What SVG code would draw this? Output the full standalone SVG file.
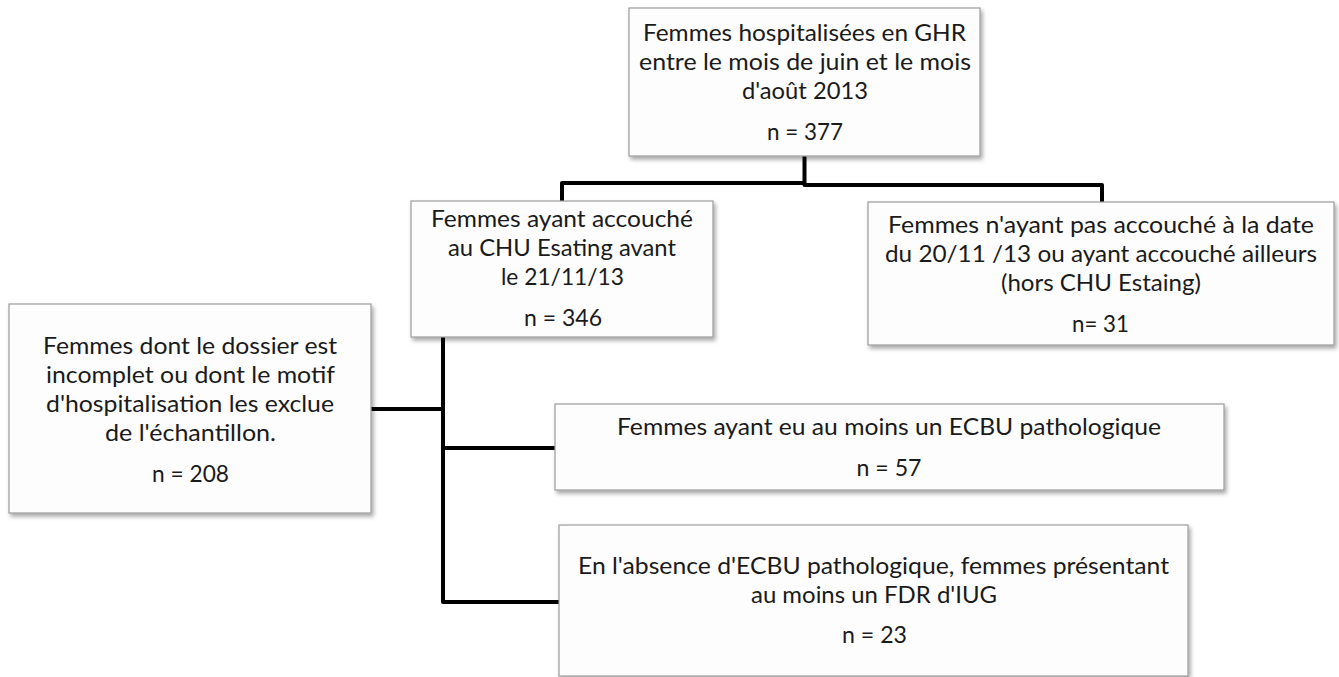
<svg xmlns="http://www.w3.org/2000/svg" width="1339" height="677" viewBox="0 0 1339 677">
<defs>
<filter id="sh" x="-5%" y="-5%" width="115%" height="125%">
<feDropShadow dx="2" dy="3" stdDeviation="2" flood-color="#000" flood-opacity="0.35"/>
</filter>
<style>
.box{fill:#fdfdfd;stroke:#9c9c9c;stroke-width:1.2;filter:url(#sh)}
.t{font-family:Lato,"Open Sans","Liberation Sans",sans-serif;font-size:23px;fill:#1a1a1a;text-anchor:middle}
.c{fill:none;stroke:#000;stroke-width:4;stroke-linejoin:round;stroke-linecap:butt}
</style>
</defs>
<rect width="1339" height="677" fill="#fff"/>
<g id="connectors">
<path class="c" d="M562,201 V183 H806"/>
<path class="c" d="M804.5,156 V185 H1102 V202"/>
<path class="c" d="M443,337 V602 H559"/>
<path class="c" d="M371,409 H443"/>
<path class="c" d="M443,448 H555"/>
</g>
<g id="n1">
<rect class="box" x="629" y="8" width="351" height="148"/>
<text class="t" x="804.5" y="41" textLength="323" lengthAdjust="spacingAndGlyphs">Femmes hospitalisées en GHR</text>
<text class="t" x="805" y="70" textLength="332" lengthAdjust="spacingAndGlyphs">entre le mois de juin et le mois</text>
<text class="t" x="805" y="99" textLength="126" lengthAdjust="spacingAndGlyphs">d'août 2013</text>
<text class="t" x="805" y="140" textLength="76" lengthAdjust="spacingAndGlyphs">n = 377</text>
</g>
<g id="n2">
<rect class="box" x="411" y="201" width="302" height="136"/>
<text class="t" x="562" y="227" textLength="262" lengthAdjust="spacingAndGlyphs">Femmes ayant accouché</text>
<text class="t" x="562" y="256" textLength="228" lengthAdjust="spacingAndGlyphs">au CHU Esating avant</text>
<text class="t" x="562.5" y="285" textLength="123" lengthAdjust="spacingAndGlyphs">le 21/11/13</text>
<text class="t" x="563" y="326" textLength="78" lengthAdjust="spacingAndGlyphs">n = 346</text>
</g>
<g id="n3">
<rect class="box" x="868" y="202" width="466" height="143"/>
<text class="t" x="1101" y="233" textLength="426" lengthAdjust="spacingAndGlyphs">Femmes n'ayant pas accouché à la date</text>
<text class="t" x="1101" y="262" textLength="432" lengthAdjust="spacingAndGlyphs">du 20/11 /13 ou ayant accouché ailleurs</text>
<text class="t" x="1101" y="291" textLength="200" lengthAdjust="spacingAndGlyphs">(hors CHU Estaing)</text>
<text class="t" x="1100.5" y="332" textLength="57" lengthAdjust="spacingAndGlyphs">n= 31</text>
</g>
<g id="n4">
<rect class="box" x="9" y="304" width="362" height="209"/>
<text class="t" x="190" y="354" textLength="294" lengthAdjust="spacingAndGlyphs">Femmes dont le dossier est</text>
<text class="t" x="190.5" y="383" textLength="289" lengthAdjust="spacingAndGlyphs">incomplet ou dont le motif</text>
<text class="t" x="190" y="412" textLength="288" lengthAdjust="spacingAndGlyphs">d'hospitalisation les exclue</text>
<text class="t" x="190.5" y="441" textLength="171" lengthAdjust="spacingAndGlyphs">de l'échantillon.</text>
<text class="t" x="190.5" y="482" textLength="77" lengthAdjust="spacingAndGlyphs">n = 208</text>
</g>
<g id="n5">
<rect class="box" x="555" y="404" width="669" height="86"/>
<text class="t" x="889" y="435" textLength="544" lengthAdjust="spacingAndGlyphs">Femmes ayant eu au moins un ECBU pathologique</text>
<text class="t" x="889" y="476" textLength="65" lengthAdjust="spacingAndGlyphs">n = 57</text>
</g>
<g id="n6">
<rect class="box" x="559" y="525" width="629" height="151"/>
<text class="t" x="873.5" y="574" textLength="591" lengthAdjust="spacingAndGlyphs">En l'absence d'ECBU pathologique, femmes présentant</text>
<text class="t" x="874" y="603" textLength="246" lengthAdjust="spacingAndGlyphs">au moins un FDR d'IUG</text>
<text class="t" x="874.5" y="643" textLength="65" lengthAdjust="spacingAndGlyphs">n = 23</text>
</g>
</svg>
